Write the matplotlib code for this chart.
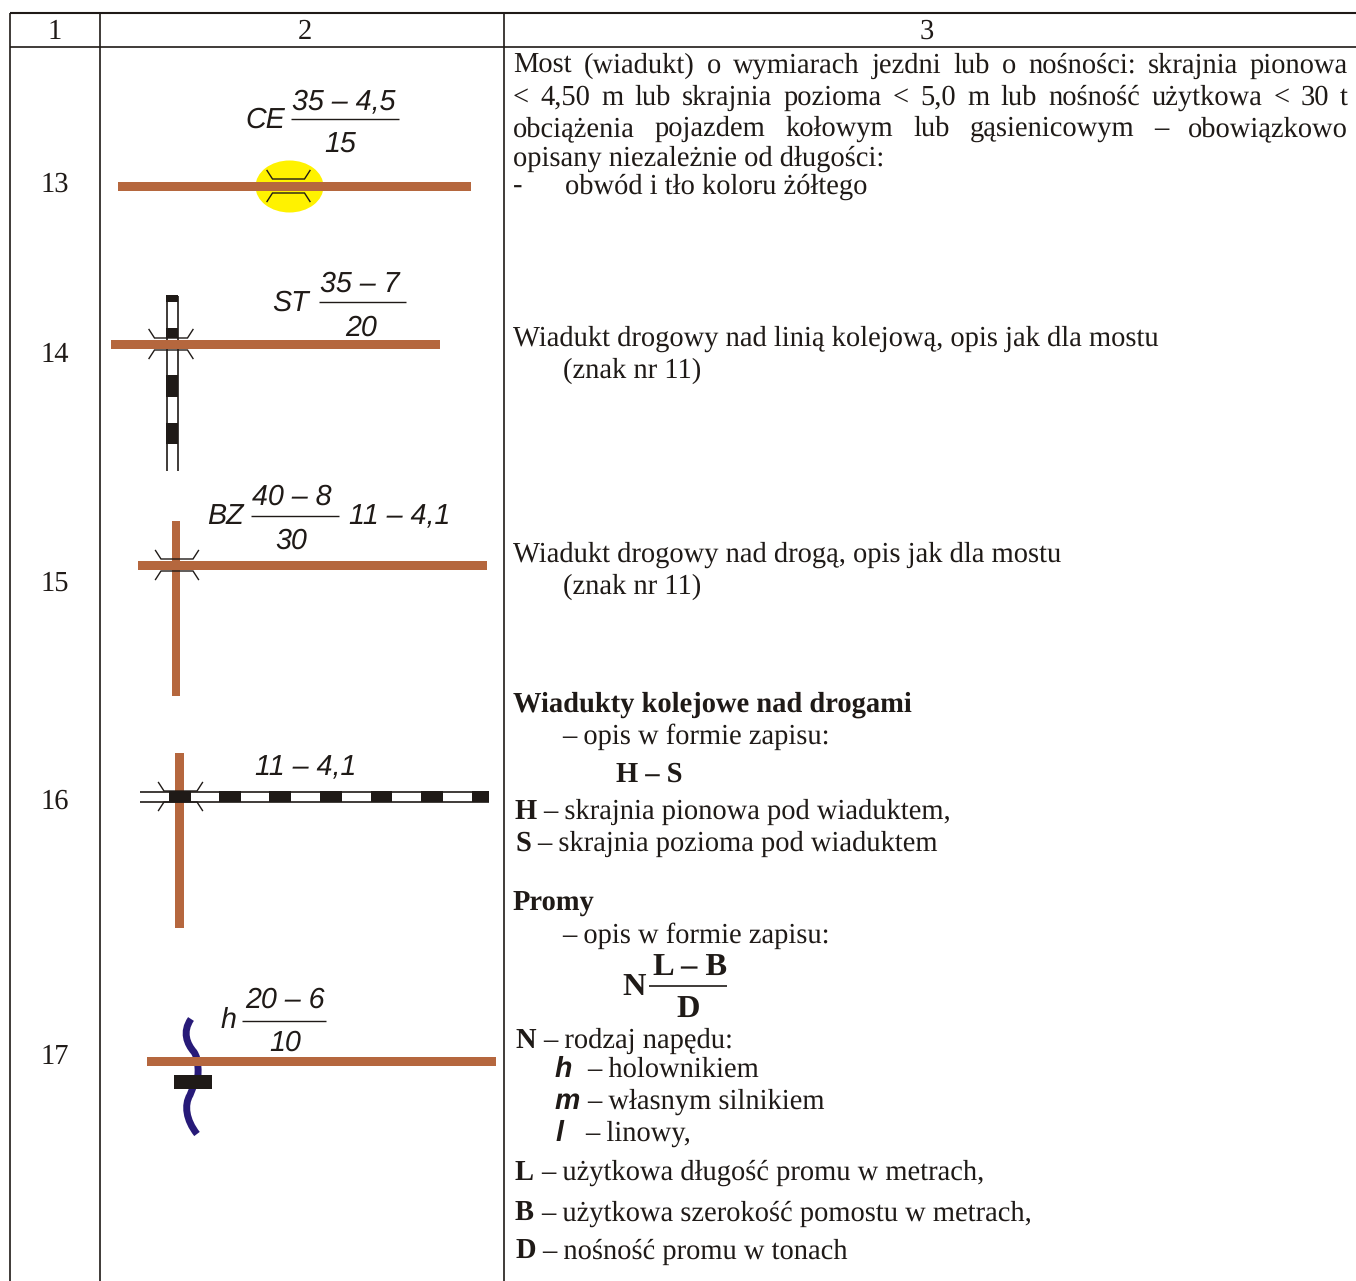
import matplotlib
matplotlib.use('Agg')
import matplotlib.pyplot as plt
from matplotlib.patches import Ellipse, Rectangle
from matplotlib.path import Path
from matplotlib.patches import PathPatch

plt.rcParams['text.hinting'] = 'no_hinting'

W, H = 1356, 1281
ROAD = '#b5673e'
BLACK = '#1f1a17'
SERIF = 'Liberation Serif'
SANS = 'Liberation Sans'
FS = 20.55
FS_SIGN = 20.6
FS_FORMULA = 23.4

headers = ['1', '2', '3']
row_numbers = ['13', '14', '15', '16', '17']
row_number_y = [192, 362, 591, 809, 1064]

# pierwszy akapit jest wyjustowany
justified = [
    'Most (wiadukt) o wymiarach jezdni lub o nośności: skrajnia pionowa',
    '< 4,50 m lub skrajnia pozioma < 5,0 m lub nośność użytkowa < 30 t',
    'obciążenia pojazdem kołowym lub gąsienicowym – obowiązkowo',
]
justified_y = [73, 105, 136]

# x, y, tekst, pogrubienie
plain_lines = [
    (513, 166, 'opisany niezależnie od długości:', False),
    (513, 194, '-', False),
    (565, 194, 'obwód i tło koloru żółtego', False),
    (513, 346, 'Wiadukt drogowy nad linią kolejową, opis jak dla mostu', False),
    (563, 378, '(znak nr 11)', False),
    (513, 562, 'Wiadukt drogowy nad drogą, opis jak dla mostu', False),
    (563, 594, '(znak nr 11)', False),
    (513, 712, 'Wiadukty kolejowe nad drogami', True),
    (562, 744, '– opis w formie zapisu:', False),
    (616, 782, 'H – S', True),
    (515, 819, 'H', True),
    (543, 819, '– skrajnia pionowa pod wiaduktem,', False),
    (515, 851, 'S', True),
    (537, 851, '– skrajnia pozioma pod wiaduktem', False),
    (513, 911, 'Promy', True),
    (562, 943, '– opis w formie zapisu:', False),
    (515, 1048, 'N', True),
    (543, 1048, '– rodzaj napędu:', False),
    (587, 1077, '– holownikiem', False),
    (587, 1109, '– własnym silnikiem', False),
    (585, 1141, '– linowy,', False),
    (515, 1180, 'L', True),
    (541, 1180, '– użytkowa długość promu w metrach,', False),
    (515, 1221, 'B', True),
    (541, 1221, '– użytkowa szerokość pomostu w metrach,', False),
    (515, 1259, 'D', True),
    (542, 1259, '– nośność promu w tonach', False),
]
formula_parts = [(622, 995, 'N'), (653, 976, 'L – B'), (676, 1018, 'D')]
drive_letters = [(555, 1077, 'h'), (555, 1109, 'm'), (556, 1141, 'l')]

# opisy znaków w kolumnie 2
sign_texts = [
    (245, 128, 'CE'), (292, 109, '35 – 4,5'), (324, 153, '15'),
    (272, 311, 'ST'), (320, 292, '35 – 7'), (345, 336, '20'),
    (207, 524, 'BZ'), (252, 505, '40 – 8'), (275, 549, '30'), (349, 524, '11 – 4,1'),
    (255, 775, '11 – 4,1'),
    (221, 1028, 'h'), (245, 1008, '20 – 6'), (269, 1051, '10'),
]
fraction_bars = [(291, 399, 119), (319, 406, 302), (251, 339, 516), (242, 326, 1021)]

fig = plt.figure(figsize=(W / 100, H / 100), dpi=100)
ax = fig.add_axes([0, 0, 1, 1])
ax.set_xlim(0, W)
ax.set_ylim(H, 0)
ax.axis('off')


def hline(x0, x1, y, lw=1.0, color=BLACK, z=2):
    ax.plot([x0, x1], [y, y], color=color, lw=lw, solid_capstyle='butt', zorder=z)


def vline(x, y0, y1, lw=1.0, color=BLACK, z=2):
    ax.plot([x, x], [y0, y1], color=color, lw=lw, solid_capstyle='butt', zorder=z)


def box(x0, y0, x1, y1, color, z=3):
    ax.add_patch(Rectangle((x0, y0), x1 - x0, y1 - y0, fc=color, ec='none', zorder=z))


def bridge(cx, cy, half=16.5, gap=6):
    # skrzydełka obiektu nad drogą
    for s in (-1, 1):
        xs = [cx - half - 5.5, cx - half, cx + half, cx + half + 5.5]
        ys = [cy + s * (gap + 8.5), cy + s * gap, cy + s * gap, cy + s * (gap + 8.5)]
        ax.plot(xs, ys, color=BLACK, lw=1.0, zorder=5, solid_joinstyle='miter')


def justify(line, y, x0=513, x1=1348):
    words = line.split(' ')
    r = fig.canvas.get_renderer()
    items = [ax.text(0, y, w, family=SERIF, fontsize=FS, va='baseline', color=BLACK) for w in words]
    widths = [t.get_window_extent(r).width for t in items]
    gap = (x1 - x0 - sum(widths)) / (len(words) - 1)
    x = x0
    for t, w in zip(items, widths):
        t.set_x(x)
        x += w + gap


# siatka tabeli
hline(10, 1356, 13, 1.5)
hline(10, 1356, 47, 1.2)
vline(10, 13, 1281, 1.2)
vline(100, 13, 1281, 1.2)
vline(504, 13, 1281, 1.2)

for x, t in zip([55, 305, 927], headers):
    ax.text(x, 39, t, family=SERIF, fontsize=FS, ha='center', va='baseline', color=BLACK)
for t, y in zip(row_numbers, row_number_y):
    ax.text(55, y, t, family=SERIF, fontsize=FS, ha='center', va='baseline', color=BLACK)

for line, y in zip(justified, justified_y):
    justify(line, y)
for x, y, t, bold in plain_lines:
    ax.text(x, y, t, family=SERIF, fontsize=FS, va='baseline', color=BLACK,
            fontweight='bold' if bold else 'normal')
for x, y, t in formula_parts:
    ax.text(x, y, t, family=SERIF, fontsize=FS_FORMULA, va='baseline', color=BLACK, fontweight='bold')
for x, y, t in drive_letters:
    ax.text(x, y, t, family=SANS, fontsize=FS, va='baseline', color=BLACK,
            fontweight='bold', fontstyle='italic')
hline(649, 727, 986, 1.2)

for x, y, t in sign_texts:
    ax.text(x, y, t, family=SANS, fontstyle='italic', fontsize=FS_SIGN, va='baseline', color=BLACK)
for x0, x1, y in fraction_bars:
    hline(x0, x1, y, 1.0)

# 13: most na żółtym tle
ax.add_patch(Ellipse((289.5, 186.5), 68, 52, fc='#fff200', ec='none', zorder=1))
bridge(288.5, 186, half=16, gap=7)
box(118, 182, 471, 191, ROAD, 4)

# 14: wiadukt nad koleją
vline(166.5, 296, 471, 1.2)
vline(177.5, 296, 471, 1.2)
for y0, y1 in [(295, 302), (328, 338), (375, 397), (423, 444)]:
    box(166, y0, 178, y1, BLACK)
bridge(171, 344, half=16.5, gap=6)
box(111, 340, 440, 349, ROAD, 6)

# 15: wiadukt nad drogą
box(172, 521, 180, 696, ROAD)
bridge(177, 565, half=16, gap=6)
box(138, 561, 487, 570, ROAD, 6)

# 16: wiadukt kolejowy nad drogą
box(175, 753, 184, 928, ROAD)
box(140, 792, 218, 801, 'white', 4)
hline(140, 489, 791.5, 1.2, BLACK, 5)
hline(140, 489, 801.5, 1.2, BLACK, 5)
for x0, x1 in [(169, 191), (219, 241), (269, 291), (320, 342), (371, 392), (421, 443), (472, 489)]:
    box(x0, 791, x1, 802, BLACK, 6)
bridge(180.5, 796.5, half=16.5, gap=5.5)

# 17: prom
river = Path([(191, 1019), (182, 1032), (187, 1044), (194, 1052),
              (199, 1060), (198, 1068), (198, 1075),
              (190, 1095), (184, 1105), (186, 1120), (197, 1134)],
             [Path.MOVETO, Path.CURVE4, Path.CURVE4, Path.CURVE4,
              Path.CURVE4, Path.CURVE4, Path.CURVE4,
              Path.LINETO, Path.CURVE4, Path.CURVE4, Path.CURVE4])
ax.add_patch(PathPatch(river, fc='none', ec='#271a78', lw=5.0, capstyle='butt', zorder=3))
box(174, 1075, 212, 1089, BLACK, 5)
box(147, 1057, 496, 1066, ROAD, 6)

fig.savefig('out.png', dpi=100)
